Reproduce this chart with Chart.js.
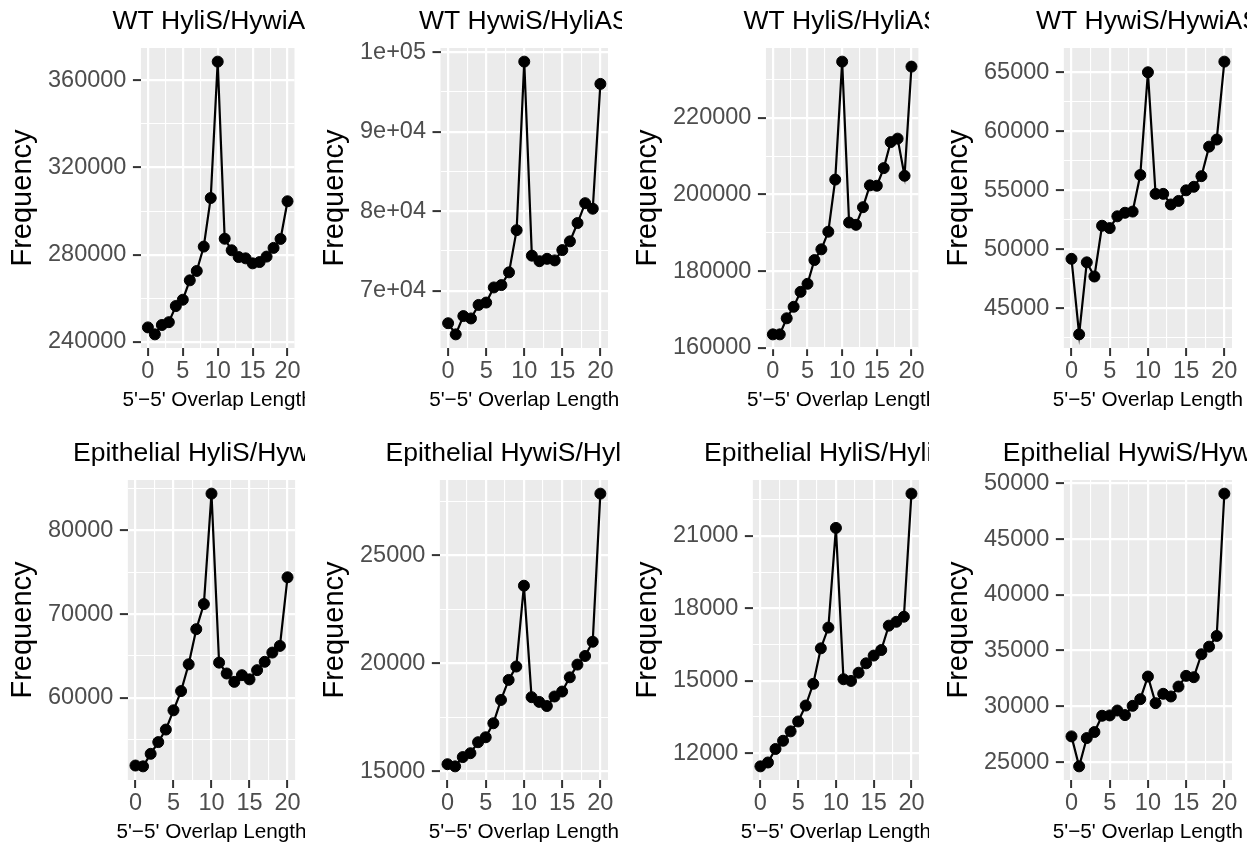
<!DOCTYPE html>
<html>
<head>
<meta charset="utf-8">
<script src="https://cdn.jsdelivr.net/npm/chart.js@4.4.1/dist/chart.umd.min.js"></script>
<style>
  body { margin: 0; background: #fff; }
  #wrap { position: relative; width: 1257px; height: 845px; overflow: hidden; }
  #wrap canvas { position: absolute; }
</style>
</head>
<body>
<div id="wrap"></div>
<script>
// 5'-5' overlap length (x) shared by all panels
const overlapLength = [0, 1, 2, 3, 4, 5, 6, 7, 8, 9, 10, 11, 12, 13, 14, 15, 16, 17, 18, 19, 20];

// frequencies
const wtHyliHywi = [246600, 243400, 247700, 249000, 256400, 259300, 268200, 272500, 283700, 306000, 368600,
  287300, 282000, 278900, 278300, 276000, 276600, 279100, 283100, 287200, 304500];
const wtHywiHyli = [65900, 64500, 66800, 66500, 68200, 68500, 70400, 70700, 72300, 77600, 98800,
  74400, 73700, 74000, 73800, 75100, 76200, 78500, 81000, 80300, 96000];
const wtHyliHyli = [163500, 163500, 167700, 170700, 174600, 176700, 182900, 185700, 190300, 203900, 234700,
  192700, 192100, 196700, 202400, 202300, 206900, 213700, 214600, 204900, 233400];
const wtHywiHywi = [49200, 42800, 48900, 47700, 52000, 51800, 52800, 53100, 53200, 56300, 65000,
  54700, 54700, 53800, 54100, 55000, 55300, 56200, 58700, 59300, 65900];
const epHyliHywi = [51900, 51800, 53300, 54700, 56200, 58500, 60800, 64000, 68200, 71200, 84400,
  64200, 62900, 61900, 62700, 62200, 63300, 64300, 65400, 66200, 74400];
const epHywiHyli = [15320, 15220, 15650, 15830, 16340, 16570, 17220, 18300, 19230, 19850, 23600,
  18430, 18210, 18020, 18460, 18690, 19350, 19940, 20340, 21000, 27870];
const epHyliHyli = [11450, 11610, 12170, 12510, 12900, 13310, 13970, 14870, 16340, 17200, 21330,
  15060, 14990, 15330, 15720, 16040, 16270, 17280, 17440, 17650, 22750];
const epHywiHywi = [27300, 24610, 27150, 27690, 29150, 29180, 29620, 29210, 30040, 30640, 32670,
  30280, 31120, 30880, 31770, 32730, 32610, 34670, 35350, 36310, 49080];

// y axis breaks per panel
const yTicksWtHyliHywi = [240000, 280000, 320000, 360000];
const yTicksWtHywiHyli = [70000, 80000, 90000, 100000];
const yLabelsWtHywiHyli = ["7e+04", "8e+04", "9e+04", "1e+05"];
const yTicksWtHyliHyli = [160000, 180000, 200000, 220000];
const yTicksWtHywiHywi = [45000, 50000, 55000, 60000, 65000];
const yTicksEpHyliHywi = [60000, 70000, 80000];
const yTicksEpHywiHyli = [15000, 20000, 25000];
const yTicksEpHyliHyli = [12000, 15000, 18000, 21000];
const yTicksEpHywiHywi = [25000, 30000, 35000, 40000, 45000, 50000];

const xTicks = [0, 5, 10, 15, 20];

const panels = [
  { title: "WT HyliS/HywiAS", values: wtHyliHywi, breaks: yTicksWtHyliHywi },
  { title: "WT HywiS/HyliAS", values: wtHywiHyli, breaks: yTicksWtHywiHyli, labels: yLabelsWtHywiHyli },
  { title: "WT HyliS/HyliAS", values: wtHyliHyli, breaks: yTicksWtHyliHyli },
  { title: "WT HywiS/HywiAS", values: wtHywiHywi, breaks: yTicksWtHywiHywi },
  { title: "Epithelial HyliS/HywiAS", values: epHyliHywi, breaks: yTicksEpHyliHywi },
  { title: "Epithelial HywiS/HyliAS", values: epHywiHyli, breaks: yTicksEpHywiHyli },
  { title: "Epithelial HyliS/HyliAS", values: epHyliHyli, breaks: yTicksEpHyliHyli },
  { title: "Epithelial HywiS/HywiAS", values: epHywiHywi, breaks: yTicksEpHywiHywi },
];

const FONT = "'Liberation Sans', Arial, sans-serif";
const colLeft = [4, 316, 629, 940];
const colRight = [305, 622, 929, 1247];
const padRight = [9, 14, 10, 15];
const rowTop = [0, 432];
const cellH = 413;

// major + minor break list, ggplot style (minor halfway, also just outside the majors if in range)
function withMinor(breaks, lo, hi, labels) {
  let out = [];
  let step = breaks[1] - breaks[0];
  let cand = [breaks[0] - step / 2];
  breaks.forEach((b, i) => {
    out.push({ value: b, txt: labels ? labels[i] : String(b) });
    cand.push(b + step / 2);
  });
  cand.forEach((m) => {
    if (m > lo && m < hi) out.push({ value: m, txt: "", minor: true });
  });
  return out.sort((a, b) => a.value - b.value);
}

const isMinor = (c) => c.tick && c.tick.minor;

const panelBg = {
  id: "panelBg",
  beforeDraw(chart) {
    const a = chart.chartArea;
    const ctx = chart.ctx;
    ctx.save();
    ctx.fillStyle = "#EBEBEB";
    ctx.fillRect(a.left, a.top, a.right - a.left, a.bottom - a.top);
    ctx.restore();
  },
};

// plot title + x title, centred on the panel like ggplot (not squeezed to the panel width)
const ggText = {
  id: "ggText",
  afterDraw(chart, args, opts) {
    const a = chart.chartArea;
    const ctx = chart.ctx;
    const cx = (a.left + a.right) / 2;
    ctx.save();
    ctx.textAlign = "center";
    ctx.textBaseline = "alphabetic";
    ctx.fillStyle = "#000";
    ctx.font = "26.5px " + FONT;
    ctx.fillText(opts.title, cx, 28.5);
    ctx.font = "20.7px " + FONT;
    ctx.fillText(opts.xTitle, cx, a.bottom + 57.5);
    ctx.restore();
  },
};

const wrap = document.getElementById("wrap");

panels.forEach((p, k) => {
  let col = k % 4;
  let row = Math.floor(k / 4);

  let canvas = document.createElement("canvas");
  canvas.width = colRight[col] - colLeft[col];
  canvas.height = cellH;
  canvas.style.left = colLeft[col] + "px";
  canvas.style.top = rowTop[row] + "px";
  wrap.appendChild(canvas);

  let lo = Math.min(...p.values);
  let hi = Math.max(...p.values);
  let yMin = lo - 0.05 * (hi - lo);
  let yMax = hi + 0.05 * (hi - lo);
  let yTicks = withMinor(p.breaks, yMin, yMax, p.labels);
  let xT = withMinor(xTicks, -1, 21);

  let grid = {
    color: "#FFFFFF",
    lineWidth: (c) => (isMinor(c) ? 1.1 : 2.2),
    drawTicks: true,
    tickLength: 8,
    tickWidth: 2,
    tickColor: (c) => (isMinor(c) ? "rgba(0,0,0,0)" : "#333333"),
  };

  new Chart(canvas, {
    type: "line",
    data: {
      datasets: [
        {
          data: p.values.map((v, i) => ({ x: overlapLength[i], y: v })),
          borderColor: "#000",
          borderWidth: 2.2,
          pointRadius: 5.5,
          pointBorderWidth: 1,
          pointBackgroundColor: "#000",
          pointBorderColor: "#000",
          tension: 0,
          fill: false,
        },
      ],
    },
    options: {
      responsive: false,
      devicePixelRatio: 1,
      animation: false,
      events: [],
      layout: { padding: { left: 2, right: padRight[col], top: 48, bottom: 25.5 } },
      plugins: {
        legend: { display: false },
        tooltip: { enabled: false },
        ggText: { title: p.title, xTitle: "5'\u22125' Overlap Length" },
      },
      scales: {
        x: {
          type: "linear",
          min: -1,
          max: 21,
          afterBuildTicks: (s) => { s.ticks = xT; },
          ticks: {
            autoSkip: false,
            maxRotation: 0,
            minRotation: 0,
            padding: 4,
            color: "#4D4D4D",
            font: { family: FONT, size: 23.5, lineHeight: 1 },
            callback: (v, i, t) => t[i].txt,
          },
          grid: grid,
          border: { display: false },
        },
        y: {
          type: "linear",
          min: yMin,
          max: yMax,
          afterBuildTicks: (s) => { s.ticks = yTicks; },
          ticks: {
            padding: 6.5,
            color: "#4D4D4D",
            font: { family: FONT, size: 23.5 },
            callback: (v, i, t) => t[i].txt,
          },
          grid: grid,
          border: { display: false },
          title: {
            display: true,
            text: "Frequency",
            color: "#000",
            font: { family: FONT, size: 29, lineHeight: 1 },
            padding: { top: 2.3, bottom: 4.2 },
          },
        },
      },
    },
    plugins: [panelBg, ggText],
  });
});
</script>
</body>
</html>
